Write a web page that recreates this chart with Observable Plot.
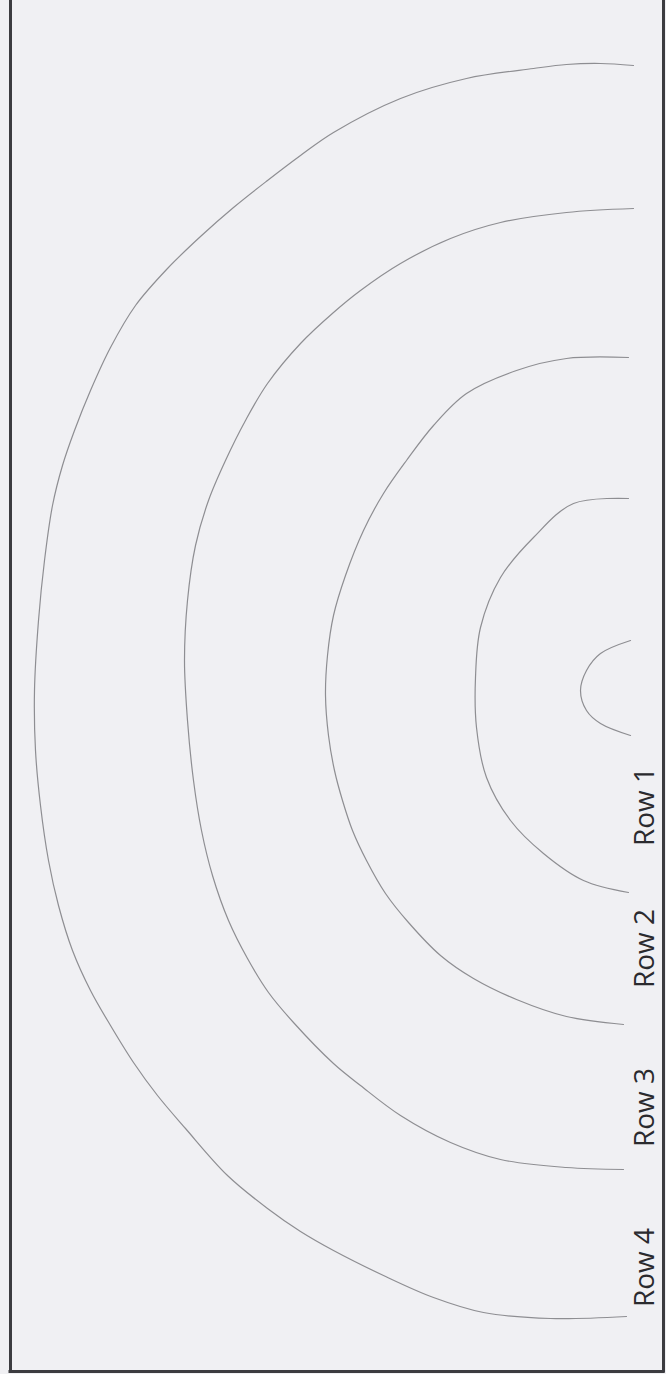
<!DOCTYPE html>
<html>
<head>
<meta charset="utf-8">
<script src="https://cdn.jsdelivr.net/npm/d3@7"></script>
<script src="https://cdn.jsdelivr.net/npm/@observablehq/plot@0.6"></script>
<style>
  html, body { margin: 0; padding: 0; background: #f0f0f3; }
  #chart svg { display: block; }
</style>
</head>
<body>
<div id="chart"></div>
<script>
// Traced arcs (page pixel coordinates)
const arcCenter = [[630,640],[600,653],[586,670],[580,690],[586,710],[600,723],[630,735]];
const arcRow1 = [[628,498],[573,503],[533,537],[500,577],[480,627],[475,677],[476,727],[486,777],[510,820],[543,853],[583,880],[628,892]];
const arcRow2 = [[628,357],[566,358],[516,370],[466,393],[433,425],[406,460],[383,493],[363,530],[345,575],[333,615],[327,655],[325,695],[328,735],[334,770],[342,800],[352,830],[366,860],[385,893],[408,922],[440,955],[473,978],[516,999],[566,1016],[623,1024]];
const arcRow3 = [[633,208],[566,212],[500,222],[450,238],[400,263],[360,290],[333,312],[300,343],[267,383],[245,420],[225,460],[208,500],[195,545],[187,600],[184,660],[187,720],[193,780],[201,830],[212,875],[228,920],[247,958],[268,992],[293,1022],[333,1063],[360,1085],[400,1115],[450,1142],[500,1159],[566,1167],[623,1169]];
const arcRow4 = [[633,65],[600,63],[566,64],[533,68],[466,78],[400,98],[333,132],[300,155],[267,180],[233,207],[200,236],[167,268],[135,305],[110,347],[90,390],[74,430],[62,465],[52,505],[44,560],[38,620],[34,690],[35,750],[40,805],[48,860],[58,905],[72,950],[90,990],[110,1025],[133,1062],[157,1095],[185,1128],[227,1175],[267,1208],[300,1231],[333,1250],[383,1275],[433,1297],[483,1312],[550,1318],[626,1316]];
const rowLabels = ["Row 1", "Row 2", "Row 3", "Row 4"];
const labelX = [645, 645, 645, 645];
const labelY = [806, 948, 1107, 1267];
const borderX = [10, 663];
const borderBottom = [1371];

const arcs = [arcCenter, arcRow1, arcRow2, arcRow3, arcRow4];
const arcNames = ["center", "Row 1", "Row 2", "Row 3", "Row 4"];
const arcData = arcs.flatMap((a, i) => a.map(([x, y]) => ({x, y, arc: arcNames[i]})));
const labelData = rowLabels.map((t, i) => ({t, x: labelX[i], y: labelY[i]}));

const W = 666, H = 1374;
const chart = Plot.plot({
  width: W,
  height: H,
  margin: 0,
  x: {domain: [0, W], range: [0, W], axis: null},
  y: {domain: [0, H], range: [0, H], axis: null},
  style: {background: "#f0f0f3"},
  marks: [
    Plot.line(arcData, {x: "x", y: "y", z: "arc", curve: "catmull-rom", stroke: "#8e8e92", strokeWidth: 1.2}),
    Plot.ruleX(borderX, {y1: -5, y2: borderBottom[0] + 1.5, stroke: "#3c3c40", strokeWidth: 3}),
    Plot.ruleY(borderBottom, {x1: borderX[0] - 1.5, x2: borderX[1] + 1.5, stroke: "#3c3c40", strokeWidth: 3}),
    Plot.text(labelData, {x: "x", y: "y", text: "t", rotate: -90, fontSize: 28, fill: "#2a2a2e", fontFamily: "Open Sans", textAnchor: "middle"})
  ]
});
document.getElementById("chart").appendChild(chart);
</script>
</body>
</html>
